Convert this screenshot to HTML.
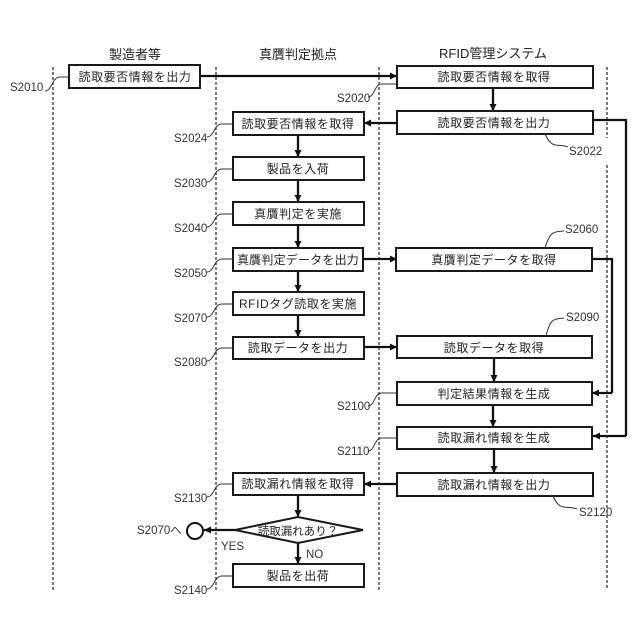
<!DOCTYPE html>
<html><head><meta charset="utf-8"><style>
html,body{margin:0;padding:0;background:#fff}
svg{display:block}
text{font-family:"Liberation Sans","Noto Sans CJK JP",sans-serif;fill:#222;font-size:12px}
.t{text-anchor:middle;font-size:12px;letter-spacing:.55px}
.h{text-anchor:middle;font-size:13px}
.s{font-size:11.5px;fill:#333}
.b{fill:#fff;stroke:#1a1a1a;stroke-width:2}
.l{fill:none;stroke:#333;stroke-width:1.3;stroke-dasharray:3 2}
.a{fill:none;stroke:#111;stroke-width:2.3}
.c{fill:none;stroke:#333;stroke-width:1}
</style></head><body>
<svg width="640" height="640" viewBox="0 0 640 640" xmlns="http://www.w3.org/2000/svg">
<defs>
<marker id="m" markerUnits="userSpaceOnUse" markerWidth="8" markerHeight="8" refX="7" refY="4" orient="auto"><path d="M0,0.5 L7,4 L0,7.5 Z" fill="#111"/></marker>
</defs>
<path class="l" d="M53,67V590M216,67V590M379,67V590M607,67V138M607,165V590"/>

<text class="h" x="135" y="59">製造者等</text>
<text class="h" x="298" y="59">真贋判定拠点</text>
<text class="h" x="493" y="58">RFID管理システム</text>

<g class="a">
<path class="a" marker-end="url(#m)" d="M200,76H397"/>
<path class="a" marker-end="url(#m)" d="M493,88V111"/>
<path class="a" marker-end="url(#m)" d="M397,123H364"/>
<path class="a" d="M593,120H626V436"/>
<path class="a" marker-end="url(#m)" d="M626,436H593"/>
<path class="a" marker-end="url(#m)" d="M298,135V157"/>
<path class="a" marker-end="url(#m)" d="M298,180V202"/>
<path class="a" marker-end="url(#m)" d="M298,225V248"/>
<path class="a" marker-end="url(#m)" d="M298,271V292"/>
<path class="a" marker-end="url(#m)" d="M298,315V337"/>
<path class="a" marker-end="url(#m)" d="M364,259H397"/>
<path class="a" marker-end="url(#m)" d="M364,347H397"/>
<path class="a" d="M592,259H612V393"/>
<path class="a" marker-end="url(#m)" d="M612,393H592"/>
<path class="a" marker-end="url(#m)" d="M494,358V382"/>
<path class="a" marker-end="url(#m)" d="M493,405V427"/>
<path class="a" marker-end="url(#m)" d="M494,449V473"/>
<path class="a" marker-end="url(#m)" d="M397,484H364"/>
<path class="a" marker-end="url(#m)" d="M298,495V517"/>
<path class="a" marker-end="url(#m)" d="M298,543V564"/>
<path class="a" marker-end="url(#m)" d="M235,530H204"/>
</g>

<rect class="b" x="69" y="65" width="131" height="23"/>
<text class="t" x="135" y="81">読取要否情報を出力</text>
<rect class="b" x="397" y="66" width="196" height="22"/>
<text class="t" x="494" y="81">読取要否情報を取得</text>
<rect class="b" x="397" y="111" width="196" height="23"/>
<text class="t" x="494" y="127">読取要否情報を出力</text>
<rect class="b" x="233" y="112" width="131" height="23"/>
<text class="t" x="298" y="128">読取要否情報を取得</text>
<rect class="b" x="233" y="157" width="131" height="23"/>
<text class="t" x="298" y="173">製品を入荷</text>
<rect class="b" x="233" y="202" width="131" height="23"/>
<text class="t" x="298" y="218">真贋判定を実施</text>
<rect class="b" x="233" y="248" width="130" height="23"/>
<text class="t" x="298" y="264" style="letter-spacing:.2px">真贋判定データを出力</text>
<rect class="b" x="233" y="292" width="131" height="23"/>
<text class="t" x="298" y="308">RFIDタグ読取を実施</text>
<rect class="b" x="233" y="337" width="131" height="22"/>
<text class="t" x="298" y="352">読取データを出力</text>
<rect class="b" x="396" y="248" width="196" height="23"/>
<text class="t" x="494" y="264">真贋判定データを取得</text>
<rect class="b" x="397" y="336" width="195" height="22"/>
<text class="t" x="494" y="352">読取データを取得</text>
<rect class="b" x="397" y="382" width="195" height="23"/>
<text class="t" x="494" y="398">判定結果情報を生成</text>
<rect class="b" x="397" y="427" width="195" height="22"/>
<text class="t" x="494" y="442">読取漏れ情報を生成</text>
<rect class="b" x="397" y="473" width="196" height="23"/>
<text class="t" x="494" y="489">読取漏れ情報を出力</text>
<rect class="b" x="233" y="473" width="131" height="22"/>
<text class="t" x="298" y="488">読取漏れ情報を取得</text>
<path class="b" d="M235,530 L298,517 L363,530 L298,543 Z"/>
<text x="298" y="535" text-anchor="middle" style="font-size:11.5px">読取漏れあり？</text>
<rect class="b" x="233" y="564" width="131" height="23"/>
<text class="t" x="298" y="580">製品を出荷</text>
<circle cx="195" cy="531" r="8" fill="#fff" stroke="#111" stroke-width="2"/>

<path class="c" d="M45,91C52,91 52,77 60,77H69"/>
<path class="c" d="M368,97C375,97 374,84 382,84H397"/>
<path class="c" d="M207,137C214,137 214,124 222,124H233"/>
<path class="c" d="M207,182C214,182 214,169 222,169H233"/>
<path class="c" d="M207,227C214,227 214,214 222,214H233"/>
<path class="c" d="M207,272C214,272 214,259 222,259H233"/>
<path class="c" d="M207,317C214,317 214,304 222,304H233"/>
<path class="c" d="M207,361C214,361 214,348 222,348H233"/>
<path class="c" d="M207,497C214,497 214,484 222,484H233"/>
<path class="c" d="M207,589C214,589 214,576 222,576H233"/>
<path class="c" d="M368,406C375,406 374,393 382,393H397"/>
<path class="c" d="M368,451C375,451 374,438 382,438H397"/>
<path class="c" d="M545,134C552,150 558,143 568,147"/>
<path class="c" d="M553,496C560,512 566,505 577,509"/>
<path class="c" d="M545,248C550,232 552,232 564,231"/>
<path class="c" d="M546,336C550,320 552,319 564,318"/>

<text class="s" x="10" y="91">S2010</text>
<text class="s" x="337" y="102">S2020</text>
<text class="s" x="174" y="142">S2024</text>
<text class="s" x="174" y="187">S2030</text>
<text class="s" x="174" y="232">S2040</text>
<text class="s" x="174" y="277">S2050</text>
<text class="s" x="174" y="322">S2070</text>
<text class="s" x="174" y="366">S2080</text>
<text class="s" x="337" y="410">S2100</text>
<text class="s" x="337" y="455">S2110</text>
<text class="s" x="174" y="502">S2130</text>
<text class="s" x="174" y="594">S2140</text>
<text class="s" x="569" y="155">S2022</text>
<text class="s" x="565" y="233">S2060</text>
<text class="s" x="566" y="321">S2090</text>
<text class="s" x="579" y="516">S2120</text>
<text class="s" x="137" y="534">S2070へ</text>
<text class="s" x="221" y="550">YES</text>
<text class="s" x="306" y="558">NO</text>
</svg>
</body></html>
